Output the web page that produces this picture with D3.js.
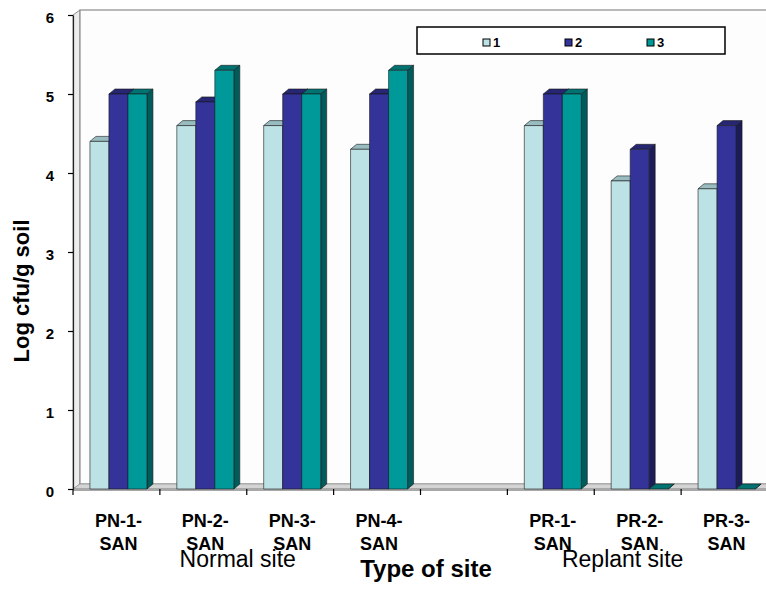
<!DOCTYPE html>
<html>
<head>
<meta charset="utf-8">
<script src="https://cdn.jsdelivr.net/npm/d3@7"></script>
<style>
  html, body { margin: 0; padding: 0; background: #fff; }
  svg { display: block; font-family: Arial, "Liberation Sans", sans-serif; }
</style>
</head>
<body>
<svg id="chart" width="766" height="594"></svg>
<script>
// Sites along the category axis (the blank entry is the gap between the two site groups)
const categories = ["PN-1-SAN", "PN-2-SAN", "PN-3-SAN", "PN-4-SAN", "", "PR-1-SAN", "PR-2-SAN", "PR-3-SAN"];
const seriesNames = ["1", "2", "3"];
// Log cfu/g soil per site, one array per series
const series1 = [4.4, 4.6, 4.6, 4.3, null, 4.6, 3.9, 3.8];
const series2 = [5.0, 4.9, 5.0, 5.0, null, 5.0, 4.3, 4.6];
const series3 = [5.0, 5.3, 5.0, 5.3, null, 5.0, 0, 0];
const yTicks = [0, 1, 2, 3, 4, 5, 6];
const groupLabels = ["Normal site", "Replant site"];

const seriesValues = [series1, series2, series3];
const frontColors = ["#bde2e5", "#333399", "#009999"];
const topColors = ["#98bcbf", "#262673", "#007272"];
const sideColors = ["#86a8ab", "#1c1c58", "#005c5c"];

const svg = d3.select("#chart");

const y = d3.scaleLinear().domain([0, 6]).range([489, 15]);
const x = d3.scaleBand().domain(categories).range([73, 768]);
const xs = d3.scaleBand().domain(d3.range(seriesNames.length))
  .range([0, x.bandwidth()]).paddingInner(0).paddingOuter(0.786);

const dx = 6, dy = 5;        // bar depth offset
const wallDx = 7, wallDy = 5; // wall depth offset
const shift = 2;

const [x0, x1] = x.range();
const yTop = y(6), yBase = y(0);

// Side wall
svg.append("polygon")
  .attr("points", [[x0, yTop], [x0 + wallDx, yTop - wallDy], [x0 + wallDx, yBase - wallDy], [x0, yBase]].join(" "))
  .attr("fill", "#ececec").attr("stroke", "#8c8c8c").attr("stroke-width", 1);

// Back wall
svg.append("rect")
  .attr("x", x0 + wallDx).attr("y", yTop - wallDy)
  .attr("width", x1 - x0).attr("height", yBase - yTop)
  .attr("fill", "#fdfdfd").attr("stroke", "#8c8c8c").attr("stroke-width", 1.2);

// Floor
svg.append("polygon")
  .attr("points", [[x0, yBase], [x0 + wallDx, yBase - wallDy], [x1 + wallDx, yBase - wallDy], [x1, yBase]].join(" "))
  .attr("fill", "#d4d4d4").attr("stroke", "#9a9a9a").attr("stroke-width", 0.8);
svg.append("rect")
  .attr("x", x0).attr("y", yBase - 1).attr("width", x1 - x0).attr("height", 3)
  .attr("fill", "#a8a8a8");

// Bars drawn as 3-D columns
const bars = svg.append("g");
categories.forEach((cat, ci) => {
  seriesValues.forEach((vals, si) => {
    const v = vals[ci];
    if (v === null || v === undefined) return;
    const bx = x(cat) + xs(si) + shift;
    const w = xs.bandwidth();
    const top = y(v), bot = y(0);
    const g = bars.append("g").attr("stroke", "#1a1a1a").attr("stroke-width", 0.6).attr("stroke-linejoin", "round");
    g.append("polygon")
      .attr("points", [[bx + w, top], [bx + w + dx, top - dy], [bx + w + dx, bot - dy], [bx + w, bot]].join(" "))
      .attr("fill", sideColors[si]);
    g.append("polygon")
      .attr("points", [[bx, top], [bx + dx, top - dy], [bx + w + dx, top - dy], [bx + w, top]].join(" "))
      .attr("fill", topColors[si]);
    if (bot - top > 0) {
      g.append("rect")
        .attr("x", bx).attr("y", top).attr("width", w).attr("height", bot - top)
        .attr("fill", frontColors[si]);
    }
  });
});

// Y axis
const yAxis = d3.axisLeft(y).tickValues(yTicks).tickFormat(d3.format("d"))
  .tickSize(5).tickSizeOuter(0).tickPadding(14);
const yg = svg.append("g").attr("transform", `translate(${x0},0)`).call(yAxis);
yg.select(".domain").attr("stroke", "#222").attr("stroke-width", 1.2);
yg.selectAll(".tick line").attr("stroke", "#000").attr("stroke-width", 1.2);
yg.selectAll(".tick text")
  .attr("dy", "0.5em")
  .attr("font-size", 15).attr("font-weight", "bold").attr("fill", "#000")
  .attr("font-family", "Arial, 'Liberation Sans', sans-serif");

// X axis tick marks at category boundaries
const boundaries = categories.map(c => x(c)).concat([x1]);
svg.append("g").selectAll("line").data(boundaries).join("line")
  .attr("x1", d => d).attr("x2", d => d)
  .attr("y1", yBase).attr("y2", yBase + 6)
  .attr("stroke", "#000").attr("stroke-width", 1.2);

// Category labels (two lines each)
const catLabels = svg.append("g")
  .attr("font-size", 18).attr("font-weight", "bold").attr("text-anchor", "middle").attr("fill", "#000");
categories.forEach(cat => {
  if (!cat) return;
  const cut = cat.lastIndexOf("-") + 1;
  const cx = x(cat) + x.bandwidth() / 2 + shift;
  const t = catLabels.append("text").attr("x", cx).attr("y", 527);
  t.append("tspan").attr("x", cx).text(cat.slice(0, cut));
  t.append("tspan").attr("x", cx).attr("dy", 23).text(cat.slice(cut));
});

// Site group labels
svg.append("text")
  .attr("x", x("PN-3-SAN") - 9).attr("y", 567)
  .attr("text-anchor", "middle").attr("font-size", 23).attr("fill", "#000")
  .text(groupLabels[0]);
svg.append("text")
  .attr("x", x("PR-2-SAN") + x.bandwidth() / 2 - 15).attr("y", 567)
  .attr("text-anchor", "middle").attr("font-size", 23).attr("fill", "#000")
  .text(groupLabels[1]);

// Axis titles
svg.append("text")
  .attr("x", 426).attr("y", 577)
  .attr("text-anchor", "middle").attr("font-size", 24).attr("font-weight", "bold").attr("fill", "#000")
  .text("Type of site");
svg.append("text")
  .attr("transform", "translate(29,291) rotate(-90)")
  .attr("text-anchor", "middle").attr("font-size", 22).attr("font-weight", "bold").attr("fill", "#000")
  .text("Log cfu/g soil");

// Legend
const legend = svg.append("g");
legend.append("rect")
  .attr("x", 417).attr("y", 27).attr("width", 308).attr("height", 27)
  .attr("fill", "#fff").attr("stroke", "#000").attr("stroke-width", 1.5);
const legendX = d3.scalePoint().domain(seriesNames).range([483, 647]);
seriesNames.forEach((name, i) => {
  const lx = legendX(name);
  legend.append("rect")
    .attr("x", lx).attr("y", 39).attr("width", 7).attr("height", 7)
    .attr("fill", frontColors[i]).attr("stroke", "#000").attr("stroke-width", 1);
  legend.append("text")
    .attr("x", lx + 10).attr("y", 46.5)
    .attr("font-size", 13).attr("font-weight", "bold").attr("fill", "#000")
    .text(name);
});
</script>
</body>
</html>
